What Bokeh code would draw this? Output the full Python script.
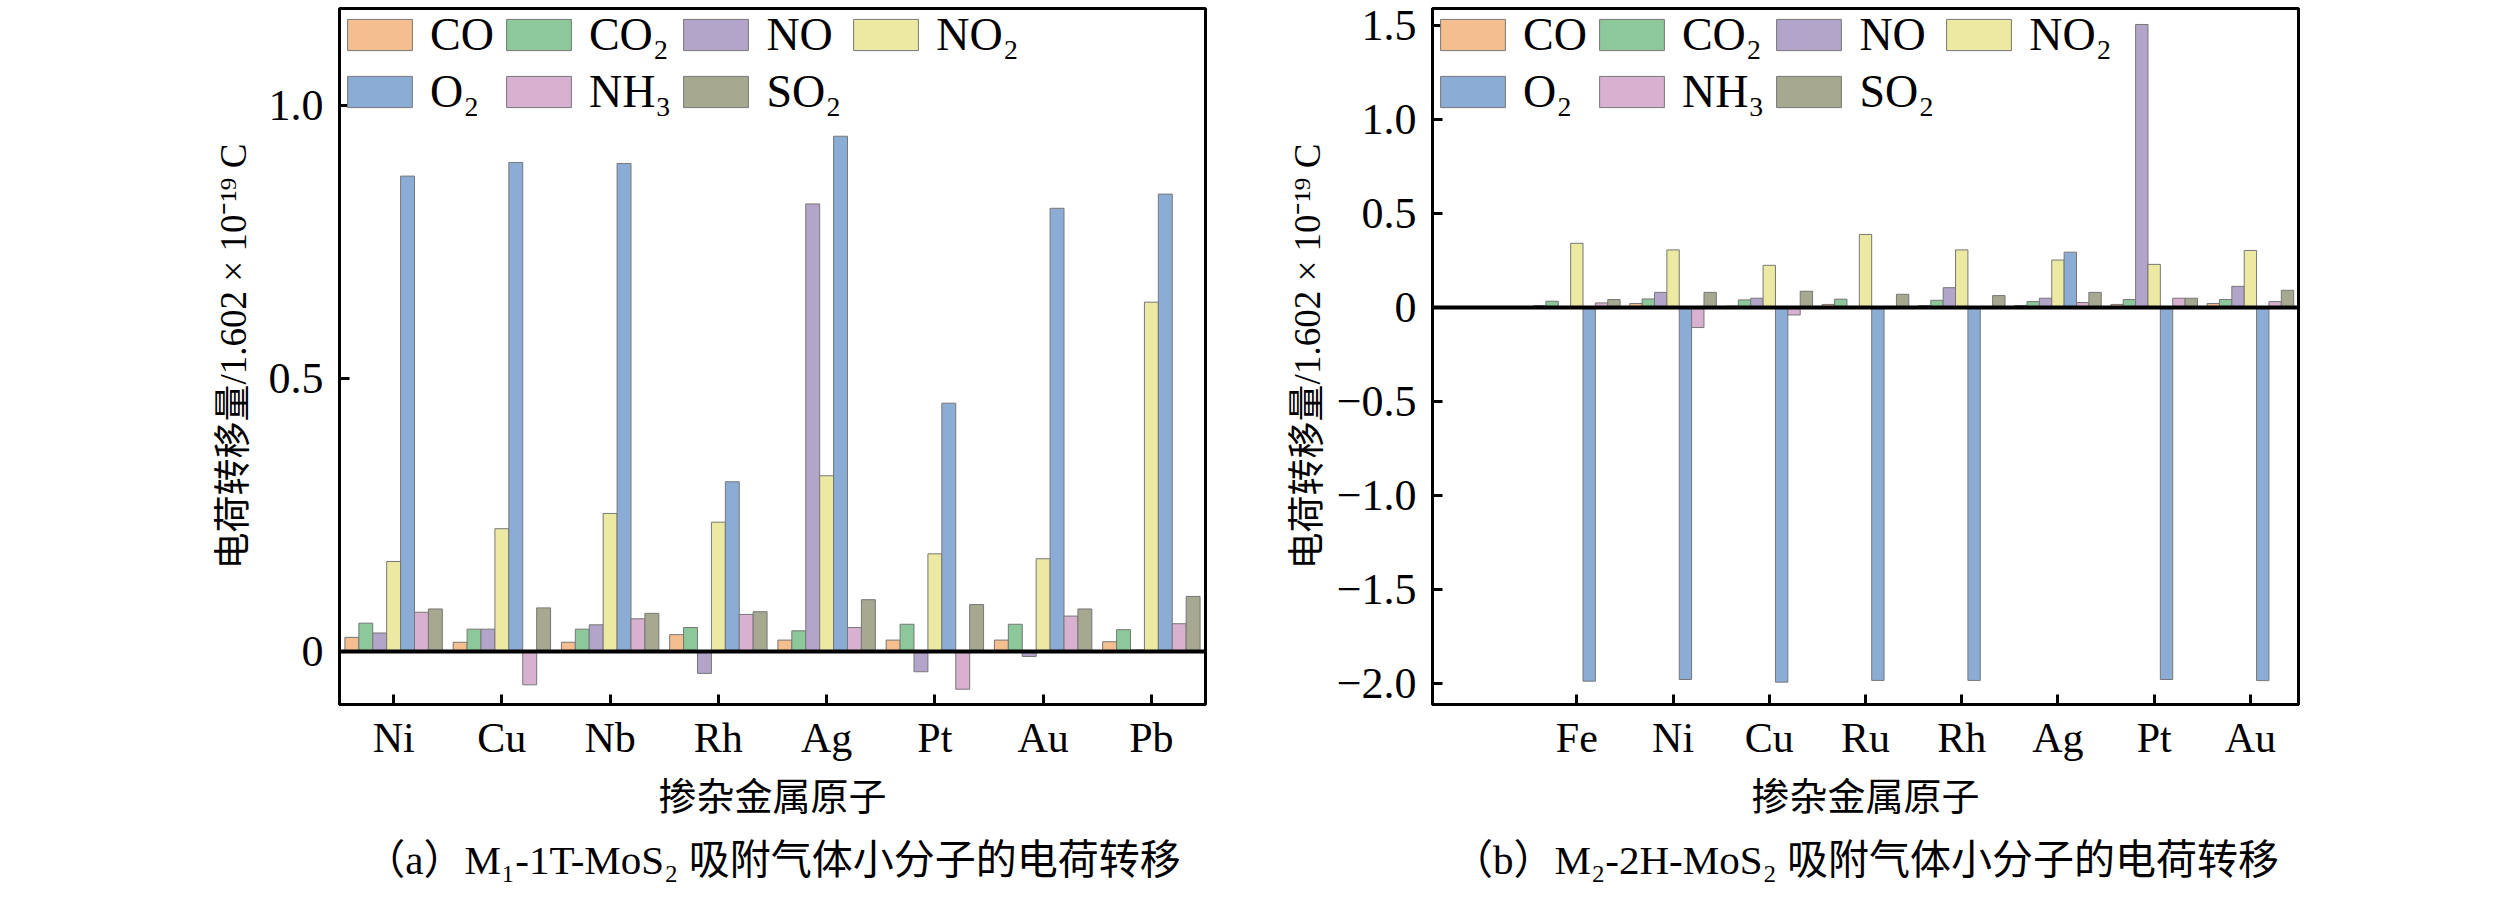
import numpy as np
from bokeh.plotting import figure
from bokeh.models import Span, Legend, LegendItem, FixedTicker, Title, Range1d
from bokeh.layouts import row
from bokeh.embed import file_html
from bokeh.resources import INLINE

# ---------------- data ----------------
gases = ["CO", "CO₂", "NO", "NO₂", "O₂", "NH₃", "SO₂"]
colors = ["#F5BE8E", "#8CC89A", "#B3A4C9", "#ECE9A2", "#8BACD5", "#D8B0D0", "#A6A88F"]

left_cats = ["Ni", "Cu", "Nb", "Rh", "Ag", "Pt", "Au", "Pb"]
left_CO = [0.026, 0.017, 0.017, 0.031, 0.021, 0.021, 0.021, 0.018]
left_CO2 = [0.052, 0.041, 0.041, 0.044, 0.038, 0.050, 0.050, 0.040]
left_NO = [0.034, 0.041, 0.049, -0.040, 0.820, -0.037, -0.009, 0.003]
left_NO2 = [0.165, 0.225, 0.253, 0.237, 0.322, 0.179, 0.170, 0.640]
left_O2 = [0.871, 0.896, 0.894, 0.311, 0.944, 0.455, 0.812, 0.838]
left_NH3 = [0.072, -0.061, 0.060, 0.068, 0.044, -0.069, 0.065, 0.051]
left_SO2 = [0.078, 0.080, 0.070, 0.073, 0.095, 0.086, 0.078, 0.101]

right_cats = ["Fe", "Ni", "Cu", "Ru", "Rh", "Ag", "Pt", "Au"]
right_CO = [0.010, 0.021, 0.007, 0.016, 0.010, 0.010, 0.016, 0.021]
right_CO2 = [0.033, 0.045, 0.040, 0.044, 0.038, 0.031, 0.042, 0.042]
right_NO = [0.0, 0.080, 0.049, 0.0, 0.105, 0.049, 1.505, 0.112]
right_NO2 = [0.341, 0.306, 0.224, 0.388, 0.306, 0.252, 0.229, 0.303]
right_O2 = [-1.988, -1.979, -1.993, -1.984, -1.984, 0.294, -1.979, -1.985]
right_NH3 = [0.024, -0.107, -0.040, 0.005, 0.0, 0.026, 0.049, 0.031]
right_SO2 = [0.042, 0.080, 0.086, 0.070, 0.063, 0.080, 0.049, 0.091]

left_yticks = [0, 0.5, 1.0]
left_ylabels = ["0", "0.5", "1.0"]
right_yticks = [-2.0, -1.5, -1.0, -0.5, 0, 0.5, 1.0, 1.5]
right_ylabels = ["−2.0", "−1.5", "−1.0", "−0.5", "0", "0.5", "1.0", "1.5"]

y_title = "电荷转移量/1.602 × 10⁻¹⁹ C"
x_title = "掺杂金属原子"
cap_a = "（a）M₁-1T-MoS₂ 吸附气体小分子的电荷转移"
cap_b = "（b）M₂-2H-MoS₂ 吸附气体小分子的电荷转移"

FONT = "Liberation Serif, Noto Sans CJK SC"


def make_plot(cats, series, x_start, y_lo, y_hi, yticks, ylabels,
              mb_left, mb_right, ylabel_standoff, caption):
    p = figure(frame_width=866, frame_height=696,
               x_range=Range1d(x_start, len(cats) - 0.5),
               y_range=Range1d(y_lo, y_hi),
               output_backend="svg", toolbar_location=None,
               min_border_left=mb_left, min_border_right=mb_right,
               min_border_top=8, min_border_bottom=60)
    p.background_fill_color = "white"
    p.border_fill_color = "white"
    p.outline_line_color = "black"
    p.outline_line_width = 3
    p.xgrid.visible = False
    p.ygrid.visible = False

    n = len(series)
    bw = 0.9 / n
    base = np.arange(len(cats))
    items = []
    for i, (vals, name, col) in enumerate(zip(series, gases, colors)):
        r = p.vbar(x=base + (i - (n - 1) / 2) * bw, top=vals, bottom=0,
                   width=bw, fill_color=col, line_color="#777777", line_width=1)
        items.append(LegendItem(label=name, renderers=[r]))

    p.add_layout(Span(location=0, dimension="width", line_color="black", line_width=4))

    # axes
    p.xaxis.ticker = FixedTicker(ticks=list(range(len(cats))))
    p.xaxis.major_label_overrides = {i: c for i, c in enumerate(cats)}
    p.yaxis.ticker = FixedTicker(ticks=yticks)
    p.yaxis.major_label_overrides = {t: l for t, l in zip(yticks, ylabels)}
    for ax in (p.xaxis[0], p.yaxis[0]):
        ax.axis_line_color = "black"
        ax.axis_line_width = 3
        ax.major_tick_in = 10
        ax.major_tick_out = 0
        ax.major_tick_line_width = 3
        ax.major_tick_line_color = "black"
        ax.minor_tick_line_color = None
        ax.major_label_text_font = FONT
        ax.major_label_text_color = "black"
        ax.axis_label_text_font = FONT
        ax.axis_label_text_font_style = "normal"
        ax.axis_label_text_color = "black"
    p.xaxis.major_label_text_font_size = "42px"
    p.yaxis.major_label_text_font_size = "44px"
    p.xaxis.axis_label = x_title
    p.xaxis.axis_label_text_font_size = "38px"
    p.xaxis.major_label_standoff = 10
    p.xaxis.axis_label_standoff = 12
    p.yaxis.axis_label = y_title
    p.yaxis.axis_label_text_font_size = "37px"
    p.yaxis.major_label_standoff = 16
    p.yaxis.axis_label_standoff = ylabel_standoff

    legend = Legend(items=items, location="top_left", orientation="horizontal",
                    ncols=4, glyph_width=81, glyph_height=39, label_standoff=10,
                    spacing=4, padding=0, margin=0,
                    border_line_alpha=0, background_fill_alpha=0,
                    label_text_font=FONT, label_text_font_size="46px",
                    label_text_color="black")
    p.add_layout(legend)

    t = Title(text=caption, align="center", text_font=FONT, text_font_size="41px",
              text_font_style="normal", text_color="black", standoff=28)
    p.add_layout(t, "below")
    return p


left_series = [left_CO, left_CO2, left_NO, left_NO2, left_O2, left_NH3, left_SO2]
right_series = [right_CO, right_CO2, right_NO, right_NO2, right_O2, right_NH3, right_SO2]

p1 = make_plot(left_cats, left_series, -0.5, -0.097, 1.178, left_yticks, left_ylabels,
               mb_left=339, mb_right=57, ylabel_standoff=12, caption=cap_a)
p2 = make_plot(right_cats, right_series, -1.5, -2.112, 1.590, right_yticks, right_ylabels,
               mb_left=170, mb_right=205, ylabel_standoff=6, caption=cap_b)

layout = row(p1, p2, spacing=0)
open("out.html", "w").write(file_html(layout, INLINE))
